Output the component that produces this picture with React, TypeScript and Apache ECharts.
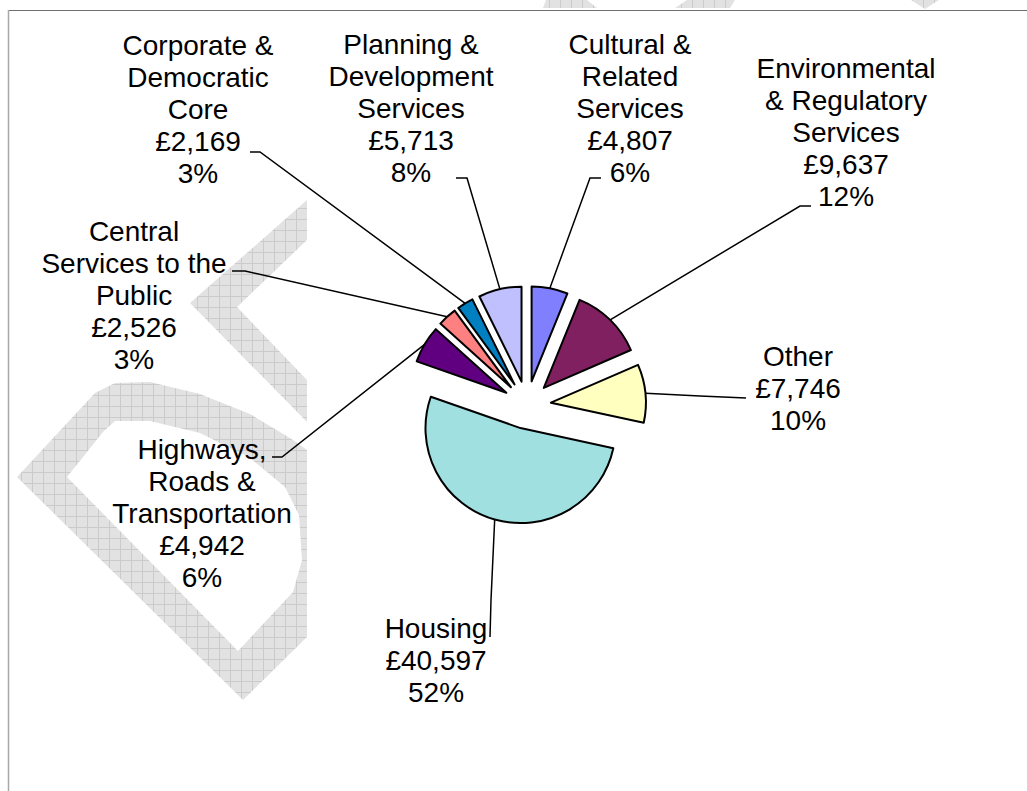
import React, { useEffect, useRef } from "react";
import * as echarts from "echarts";

// ---- Data ----
const categories = [
  "Cultural & Related Services",
  "Environmental & Regulatory Services",
  "Other",
  "Housing",
  "Highways, Roads & Transportation",
  "Central Services to the Public",
  "Corporate & Democratic Core",
  "Planning & Development Services",
];
const labelNames = [
  "Cultural &\nRelated\nServices",
  "Environmental\n& Regulatory\nServices",
  "Other",
  "Housing",
  "Highways,\nRoads &\nTransportation",
  "Central\nServices to the\nPublic",
  "Corporate &\nDemocratic\nCore",
  "Planning &\nDevelopment\nServices",
];
const values = [4807, 9637, 7746, 40597, 4942, 2526, 2169, 5713];
const percentLabels = ["6%", "12%", "10%", "52%", "6%", "3%", "3%", "8%"];
const colors = ["#8080FF", "#802060", "#FFFFC0", "#A0E0E0", "#600080", "#FF8080", "#0080C0", "#C0C0FF"];

// ---- Layout ----
const CENTER = [527, 405];
const RADIUS = 95;
const EXPLODE = 24;
const labelAnchors: number[][] = [
  [630, 108],
  [846, 132],
  [798, 388],
  [436, 660],
  [202, 513],
  [134, 295],
  [198, 109],
  [411, 108],
];
const leaderEnds: number[][][] = [
  [[590, 178], [601, 178]],
  [[800, 206], [811, 206]],
  [[700, 396], [746, 398]],
  [[491, 600], [490, 637]],
  [[282, 457], [272, 457]],
  [[245, 271], [232, 271]],
  [[260, 152], [250, 152]],
  [[467, 178], [456, 178]],
];

function makePattern(): string {
  const c = document.createElement("canvas");
  c.width = 11;
  c.height = 11;
  const g = c.getContext("2d")!;
  g.fillStyle = "#e2e2e2";
  g.fillRect(0, 0, 11, 11);
  g.fillStyle = "#cbcbcb";
  g.fillRect(10, 0, 1, 11);
  g.fillRect(0, 10, 11, 1);
  return c.toDataURL();
}

export default function App() {
  const ref = useRef<HTMLDivElement>(null);
  useEffect(() => {
    if (!ref.current) return;
    const chart = echarts.init(ref.current, undefined, { renderer: "svg" });
    const wmFill = { image: makePattern(), repeat: "repeat" } as any;
    const scale = (RADIUS + EXPLODE) / RADIUS;
    const common = {
      type: "pie",
      center: CENTER,
      radius: RADIUS,
      startAngle: 90,
      clockwise: true,
      avoidLabelOverlap: false,
      minShowLabelAngle: 0,
    };
    const option: any = {
      animation: false,
      backgroundColor: "#ffffff",
      graphic: [
        // watermark
        {
          type: "polygon",
          z: 0,
          silent: true,
          shape: { points: [[307, 200], [190, 303], [307, 422], [307, 380], [237, 307], [307, 240]] },
          style: { fill: wmFill },
        },
        {
          type: "polygon",
          z: 0,
          silent: true,
          shape: {
            points: [[17, 477], [95, 393], [115, 383], [150, 382], [200, 394], [250, 414], [290, 438], [307, 450], [307, 637], [243, 700]],
          },
          style: { fill: wmFill },
        },
        {
          type: "polygon",
          z: 1,
          silent: true,
          shape: {
            points: [[67, 477], [103, 432], [115, 421], [150, 421], [200, 433], [250, 458], [285, 487], [299, 515], [302, 560], [293, 592], [238, 651]],
          },
          style: { fill: "#ffffff" },
        },
        { type: "polygon", z: 0, silent: true, shape: { points: [[546, 0], [587, 0], [597, 8], [543, 8]] }, style: { fill: wmFill } },
        { type: "polygon", z: 0, silent: true, shape: { points: [[687, 0], [735, 0], [730, 8], [675, 8]] }, style: { fill: wmFill } },
        { type: "polygon", z: 0, silent: true, shape: { points: [[911, 0], [939, 0], [925, 9]] }, style: { fill: wmFill } },
        // frame
        { type: "line", z: 1, silent: true, shape: { x1: 8, y1: 10.5, x2: 1027, y2: 10.5 }, style: { stroke: "#707070", lineWidth: 1 } },
        { type: "line", z: 1, silent: true, shape: { x1: 8.5, y1: 10, x2: 8.5, y2: 791 }, style: { stroke: "#a8a8a8", lineWidth: 1.5 } },
      ],
      series: [
        {
          ...common,
          z: 5,
          selectedMode: "multiple",
          selectedOffset: EXPLODE,
          itemStyle: { borderColor: "#000000", borderWidth: 2 },
          select: { itemStyle: { borderColor: "#000000", borderWidth: 2 } },
          emphasis: { disabled: true },
          label: { show: false },
          labelLine: { show: false },
          data: categories.map((name, i) => ({
            name,
            value: values[i],
            selected: true,
            itemStyle: { color: colors[i] },
          })),
        },
        {
          ...common,
          z: 4,
          silent: true,
          selectedMode: false,
          emphasis: { disabled: true },
          itemStyle: { color: "rgba(0,0,0,0)", borderWidth: 0 },
          label: {
            show: true,
            position: "outside",
            color: "#000000",
            fontFamily: "Liberation Sans, Arial, sans-serif",
            fontSize: 28,
            lineHeight: 32,
            align: "center",
            formatter: (p: any) =>
              labelNames[p.dataIndex] + "\n£" + Number(p.value).toLocaleString("en-GB") + "\n" + percentLabels[p.dataIndex],
          },
          labelLine: { show: true, lineStyle: { color: "#000000", width: 1.5 } },
          labelLayout: (params: any) => {
            const i = params.dataIndex;
            const a = labelAnchors[i];
            const pts = params.labelLinePoints;
            const res: any = { x: a[0], y: a[1], align: "center", verticalAlign: "middle" };
            if (pts && pts.length) {
              const p0 = pts[0];
              const start = [CENTER[0] + (p0[0] - CENTER[0]) * scale, CENTER[1] + (p0[1] - CENTER[1]) * scale];
              res.labelLinePoints = [start, ...leaderEnds[i]];
            }
            return res;
          },
          data: categories.map((name, i) => ({ name, value: values[i] })),
        },
      ],
    };
    chart.setOption(option);
    return () => chart.dispose();
  }, []);
  return <div ref={ref} style={{ position: "fixed", left: 0, top: 0, width: 1027, height: 791 }} />;
}
